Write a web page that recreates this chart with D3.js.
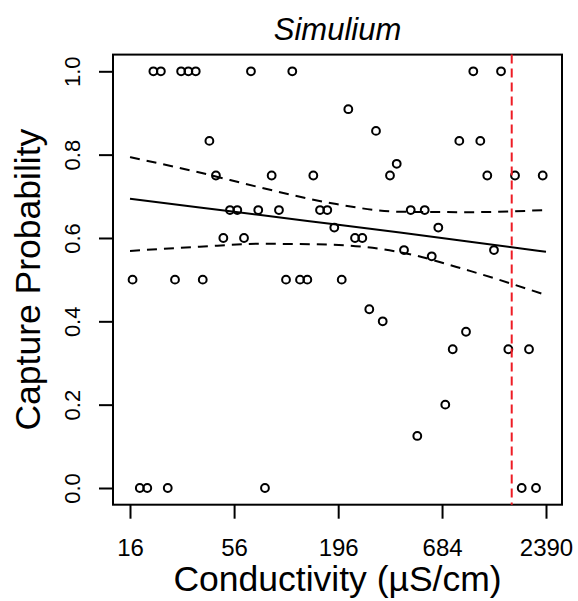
<!DOCTYPE html>
<html><head><meta charset="utf-8">
<script src="https://cdn.jsdelivr.net/npm/d3@7"></script>
<style>body{margin:0;background:#fff}svg{display:block}text{font-family:"Liberation Sans",Arial,sans-serif;fill:#000}</style>
</head><body><svg id="c" width="578" height="601"></svg>
<script>
const conductivity = [16.5, 18.0, 19.7, 21.2, 23.2, 25.2, 27.5, 29.6, 32.3, 35.3, 38.4, 41.6, 45.0, 49.2, 53.3, 58.2, 63.1, 68.6, 74.9, 81.2, 88.0, 96.1, 104.6, 112.8, 123.8, 135.2, 145.3, 157.5, 171.9, 187.0, 204.5, 221.4, 240.0, 262.0, 285.0, 308.9, 334.9, 365.6, 396.4, 432.8, 469.2, 507.8, 555.2, 604.1, 653.9, 711.2, 777.6, 841.9, 912.6, 996.3, 1084, 1179, 1278, 1391, 1519, 1646, 1784, 1948, 2119, 2297];
const capture = [0.5, 0, 0, 1, 1, 0, 0.5, 1, 1, 1, 0.5, 0.833, 0.75, 0.6, 0.667, 0.667, 0.6, 1, 0.667, 0, 0.75, 0.667, 0.5, 1, 0.5, 0.5, 0.75, 0.667, 0.667, 0.625, 0.5, 0.909, 0.6, 0.6, 0.429, 0.857, 0.4, 0.75, 0.778, 0.571, 0.667, 0.125, 0.667, 0.556, 0.625, 0.2, 0.333, 0.833, 0.375, 1, 0.833, 0.75, 0.571, 1, 0.333, 0.75, 0, 0.333, 0, 0.75];
const curveX = [16, 37, 77, 178, 412, 957, 2390];
const fitY = [0.694, 0.673, 0.655, 0.634, 0.613, 0.591, 0.567];
const upperY = [0.794, 0.757, 0.721, 0.684, 0.663, 0.662, 0.667];
const lowerY = [0.569, 0.579, 0.586, 0.584, 0.566, 0.521, 0.463];
const thresholdX = 1582;
const xTicks = [16, 56, 196, 684, 2390];
const yTicks = [0, 0.2, 0.4, 0.6, 0.8, 1.0];

const svg = d3.select("#c");
const L = 113, R = 562, T = 54.6, B = 504.7;
const x = d3.scaleLog().domain([16, 2390]).range([130, 546]);
const y = d3.scaleLinear().domain([0, 1]).range([488, 71.3]);

// x axis
const xa = svg.append("g").attr("transform", `translate(0,${B})`)
  .call(d3.axisBottom(x).tickValues(xTicks).tickFormat(d => d).tickSize(14));
xa.select(".domain").remove();
xa.selectAll("line").attr("stroke", "#000").attr("stroke-width", 2);
xa.selectAll("text").attr("font-size", 24).attr("font-family", "Liberation Sans, Arial, sans-serif").attr("fill", "#000")
  .attr("dy", null).attr("y", 51);

// y axis
const ya = svg.append("g").attr("transform", `translate(${L},0)`)
  .call(d3.axisLeft(y).tickValues(yTicks).tickFormat(d3.format(".1f")).tickSize(14));
ya.select(".domain").remove();
ya.selectAll("line").attr("stroke", "#000").attr("stroke-width", 2);
ya.selectAll(".tick text").attr("font-size", 22).attr("font-family", "Liberation Sans, Arial, sans-serif").attr("fill", "#000")
  .attr("x", null).attr("dy", null).attr("text-anchor", "middle")
  .attr("transform", "translate(-33,0) rotate(-90)");

// box
svg.append("rect").attr("x", L).attr("y", T).attr("width", R - L).attr("height", B - T)
  .attr("fill", "none").attr("stroke", "#000").attr("stroke-width", 2);

// curves
const line = d3.line().x((d, i) => x(curveX[i])).y(d => y(d)).curve(d3.curveMonotoneX);
svg.append("path").attr("d", line(fitY)).attr("fill", "none").attr("stroke", "#000").attr("stroke-width", 2);
[upperY, lowerY].forEach(arr => svg.append("path").attr("d", line(arr)).attr("fill", "none")
  .attr("stroke", "#000").attr("stroke-width", 2).attr("stroke-dasharray", "10,7"));

// points
svg.append("g").selectAll("circle").data(conductivity).join("circle")
  .attr("cx", d => x(d)).attr("cy", (d, i) => y(capture[i])).attr("r", 3.9)
  .attr("fill", "none").attr("stroke", "#000").attr("stroke-width", 2);

// threshold
svg.append("line").attr("x1", x(thresholdX)).attr("x2", x(thresholdX)).attr("y1", T).attr("y2", B)
  .attr("stroke", "#ee1c25").attr("stroke-width", 2).attr("stroke-dasharray", "9,5");

// titles
svg.append("text").attr("x", (L + R) / 2).attr("y", 40).attr("text-anchor", "middle")
  .attr("font-size", 31).attr("font-style", "italic").text("Simulium");
svg.append("text").attr("x", (L + R) / 2).attr("y", 591).attr("text-anchor", "middle")
  .attr("font-size", 35.5).text("Conductivity (µS/cm)");
svg.append("text").attr("transform", `translate(40,${(T + B) / 2}) rotate(-90)`).attr("text-anchor", "middle")
  .attr("font-size", 35.5).text("Capture Probability");
</script></body></html>
